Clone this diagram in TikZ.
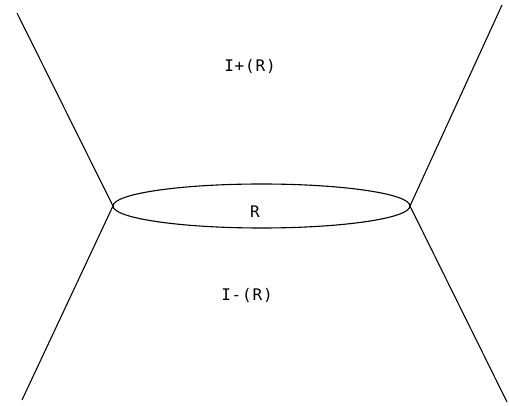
\documentclass[tikz,border=0pt]{standalone}
\usepackage{fontspec}
\newfontfamily\lblfont[LetterSpace=5]{DejaVu Sans Mono}
\usetikzlibrary{positioning}

\begin{document}
\begin{tikzpicture}[x=1pt,y=-1pt,
    edge/.style={draw=black,line width=1.1pt},
    lbl/.style={font=\lblfont\fontsize{16}{19}\selectfont,inner sep=0pt,text=black}]
  \useasboundingbox (0,0) rectangle (509,406);
  \coordinate (L) at (113,206);
  \coordinate (Rt) at (410,206);
  \coordinate (C) at (261.5,206);
  \coordinate (NW) at (17,13);
  \coordinate (SW) at (22,400);
  \coordinate (NE) at (502,5);
  \coordinate (SE) at (507,402);
  \draw[edge] (NW) -- (L) -- (SW);
  \draw[edge] (NE) -- (Rt) -- (SE);
  \draw[edge] (C) ellipse [x radius=148.5, y radius=22];
  \node[lbl] (Rlbl) at (255,212) {R};
  \node[lbl] (Iplus) at (250,66) {I+(R)};
  \node[lbl] (Iminus) at (247,295) {I-(R)};
\end{tikzpicture}
\end{document}
